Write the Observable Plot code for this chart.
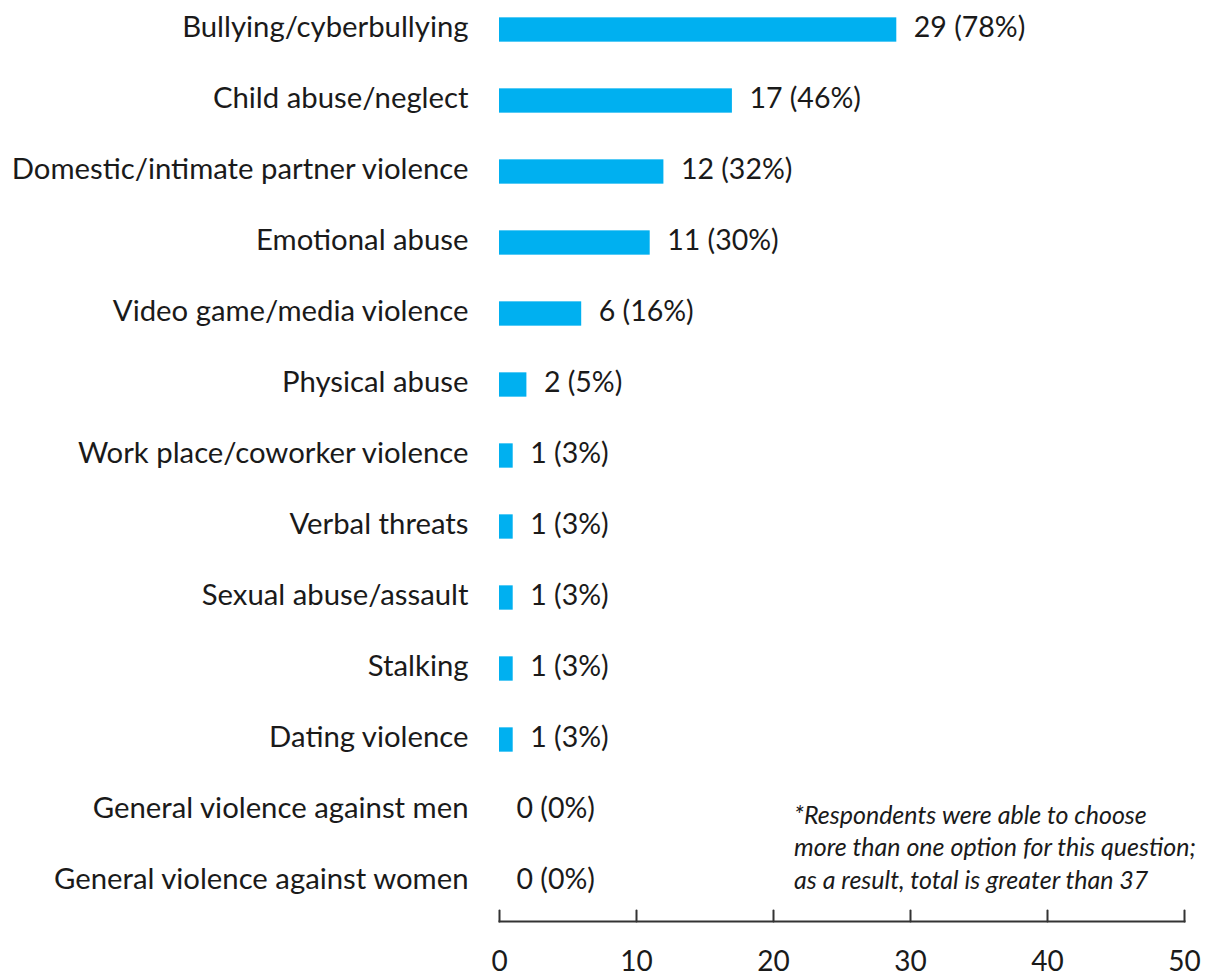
<!DOCTYPE html>
<html>
<head>
<meta charset="utf-8">
<script src="https://cdn.jsdelivr.net/npm/d3@7"></script>
<script src="https://cdn.jsdelivr.net/npm/@observablehq/plot@0.6"></script>
<style>
  html, body { margin: 0; padding: 0; background: #fff; }
  svg { display: block; }
</style>
</head>
<body>
<div id="chart"></div>
<script>
const categories = [
  "Bullying/cyberbullying",
  "Child abuse/neglect",
  "Domestic/intimate partner violence",
  "Emotional abuse",
  "Video game/media violence",
  "Physical abuse",
  "Work place/coworker violence",
  "Verbal threats",
  "Sexual abuse/assault",
  "Stalking",
  "Dating violence",
  "General violence against men",
  "General violence against women"
];
const counts = [29, 17, 12, 11, 6, 2, 1, 1, 1, 1, 1, 0, 0];
const percents = [78, 46, 32, 30, 16, 5, 3, 3, 3, 3, 3, 0, 0];
const xTicks = [0, 10, 20, 30, 40, 50];
const note = "*Respondents were able to choose\nmore than one option for this question;\nas a result, total is greater than 37";

const data = categories.map((c, i) => ({category: c, count: counts[i], pct: percents[i]}));

const W = 1207, H = 977;
const rowStep = 71.67;
const barH = 25;
const firstCenter = 25;

const plot = Plot.plot({
  width: W,
  height: H,
  marginLeft: 499,
  marginRight: 23,
  marginTop: 0,
  marginBottom: 56,
  style: {fontFamily: "Lato, 'Open Sans', sans-serif", color: "#1a1a1a", background: "#fff"},
  x: {domain: [0, 50], ticks: xTicks},
  y: {
    domain: categories,
    range: [firstCenter - rowStep / 2, firstCenter + rowStep * (categories.length - 0.5)],
    padding: 0
  },
  marks: [
    Plot.barX(data, {
      x: "count", y: "category", fill: "#00B0F0",
      insetTop: (rowStep - barH) / 2, insetBottom: (rowStep - barH) / 2
    }),
    Plot.text(data, {
      x: "count", y: "category",
      text: d => `${d.count} (${d.pct}%)`,
      textAnchor: "start", dx: 17, dy: -2, fontSize: 28.5, fill: "#1a1a1a"
    }),
    Plot.axisY({tickSize: 0, tickPadding: 31, fontSize: 29.3, dy: -2, label: null}),
    Plot.frame({anchor: "bottom", stroke: "#333", strokeWidth: 2}),
    Plot.vector(xTicks, {
      x: d => d, frameAnchor: "bottom", length: 11, rotate: 0, anchor: "start",
      stroke: "#333", strokeWidth: 2,
      shape: {draw(context, l) { context.moveTo(0, 0); context.lineTo(0, -l); }}
    }),
    Plot.axisX({tickSize: 0, tickPadding: 30, fontSize: 28, label: null, ticks: xTicks}),
    Plot.text([note], {
      x: 21.5, y: () => categories[11], text: d => d,
      textAnchor: "start", lineAnchor: "middle", dy: 35, lineHeight: 1.3,
      fontSize: 25, fontStyle: "italic", fill: "#1a1a1a"
    })
  ]
});
document.getElementById("chart").appendChild(plot);
</script>
</body>
</html>
